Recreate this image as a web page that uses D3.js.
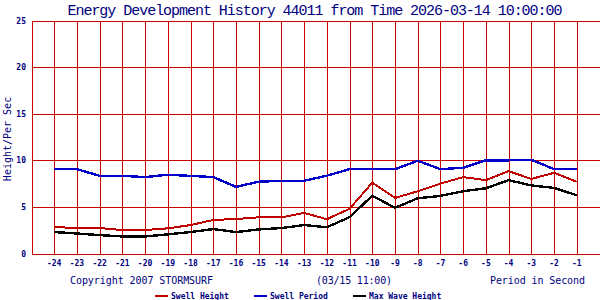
<!DOCTYPE html>
<html lang="en">
<head>
    <meta charset="UTF-8">
    <title>Energy Development History</title>
    <script src="https://d3js.org/d3.v7.min.js"></script>
    <style>
        body{
            margin: 0;
            background: white;
        }
        text{
            font-family: "DejaVu Sans Mono", "Liberation Mono", monospace;
            fill: #000080;
        }
        .grid line{
            stroke: #cc0000;
            stroke-width: 1;
            shape-rendering: crispEdges;
        }
        .series{
            fill: none;
            stroke-linejoin: miter;
            shape-rendering: crispEdges;
        }
    </style>
</head>
<body>
    <svg id="chart" width="600" height="300"></svg>
    <script>
        // hours before the forecast time
        const hours = d3.range(-24, 0)
        const swellHeight = [2.84, 2.73, 2.73, 2.52, 2.52, 2.7, 3.05, 3.6, 3.7, 3.88, 3.88, 4.35,
            3.68, 4.8, 7.6, 5.96, 6.68, 7.5, 8.2, 7.87, 8.84, 8.0, 8.66, 7.7]
        const swellPeriod = [9.05, 9.05, 8.33, 8.33, 8.2, 8.45, 8.33, 8.2, 7.15, 7.7, 7.8, 7.8,
            8.35, 9.05, 9.05, 9.05, 9.95, 9.05, 9.2, 10.0, 10.0, 10.06, 9.05, 9.05]
        const maxWave = [2.3, 2.15, 1.97, 1.83, 1.83, 2.05, 2.3, 2.62, 2.3, 2.58, 2.73, 3.05,
            2.82, 3.9, 6.2, 4.9, 5.93, 6.18, 6.68, 7.0, 7.87, 7.3, 7.04, 6.25]
        const yTicks = [0, 5, 10, 15, 20, 25]
        const seriesNames = ["Swell Height", "Swell Period", "Max Wave Height"]
        const seriesColors = ["#c00000", "#0000c8", "#000000"]

        const svg = d3.select("#chart")
        const x = d3.scaleLinear().domain([-25, 0]).range([31.5, 599.5])
        const y = d3.scaleLinear().domain([0, 25]).range([253.5, 20.5])

        // title
        svg.append("text")
            .attr("x", 315).attr("y", 15)
            .attr("text-anchor", "middle")
            .attr("font-size", 15)
            .style("font-family", "'Liberation Mono', monospace")
            .attr("textLength", 495)
            .attr("lengthAdjust", "spacing")
            .text("Energy Development History 44011 from Time 2026-03-14 10:00:00")

        // grid
        const grid = svg.append("g").attr("class", "grid")
        grid.selectAll(".h").data(yTicks)
            .join("line")
            .attr("x1", x(-25)).attr("x2", 600)
            .attr("y1", d => Math.round(y(d)) + 0.5).attr("y2", d => Math.round(y(d)) + 0.5)
        grid.selectAll(".v").data(d3.range(-25, 0))
            .join("line")
            .attr("x1", d => Math.round(x(d)) + 0.5).attr("x2", d => Math.round(x(d)) + 0.5)
            .attr("y1", y(25)).attr("y2", y(0))

        // y tick labels
        svg.append("g").selectAll("text").data(yTicks)
            .join("text")
            .attr("x", 26).attr("y", d => y(d) + 3)
            .attr("text-anchor", "end")
            .attr("font-size", 8).attr("font-weight", "bold")
            .text(d => d)

        // x tick labels
        svg.append("g").selectAll("text").data(hours)
            .join("text")
            .attr("x", d => x(d)).attr("y", 266)
            .attr("text-anchor", "middle")
            .attr("font-size", 8).attr("font-weight", "bold")
            .text(d => d)

        // y axis title
        svg.append("text")
            .attr("transform", "translate(11,139) rotate(-90)")
            .attr("text-anchor", "middle")
            .attr("font-size", 10)
            .text("Height/Per Sec")

        // footer texts
        svg.append("text").attr("x", 70).attr("y", 284).attr("font-size", 10)
            .attr("textLength", 143).attr("lengthAdjust", "spacing")
            .text("Copyright 2007 STORMSURF")
        svg.append("text").attr("x", 316).attr("y", 284).attr("font-size", 10)
            .attr("textLength", 76).attr("lengthAdjust", "spacing")
            .text("(03/15 11:00)")
        svg.append("text").attr("x", 490).attr("y", 284).attr("font-size", 10)
            .attr("textLength", 95).attr("lengthAdjust", "spacing")
            .text("Period in Second")

        // series lines
        const line = d3.line()
            .x((d, i) => x(hours[i]))
            .y(d => y(d))
        const allSeries = [swellHeight, swellPeriod, maxWave]
        svg.append("g").selectAll("path").data(allSeries)
            .join("path")
            .attr("class", "series")
            .attr("stroke", (d, i) => seriesColors[i])
            .attr("stroke-width", (d, i) => i === 0 ? 2 : 2.4)
            .attr("d", line)

        // legend
        const legendX = [155, 254, 353]
        const legend = svg.append("g").selectAll("g").data(seriesNames)
            .join("g")
            .attr("transform", (d, i) => "translate(" + legendX[i] + ",295)")
        legend.append("line")
            .attr("x1", 0).attr("x2", 13)
            .attr("y1", 0.5).attr("y2", 0.5)
            .attr("stroke", (d, i) => seriesColors[i])
            .attr("stroke-width", 2)
            .attr("shape-rendering", "crispEdges")
        legend.append("text")
            .attr("x", 16).attr("y", 3.5)
            .attr("font-size", 8).attr("font-weight", "bold")
            .text(d => d)
    </script>
</body>
</html>
